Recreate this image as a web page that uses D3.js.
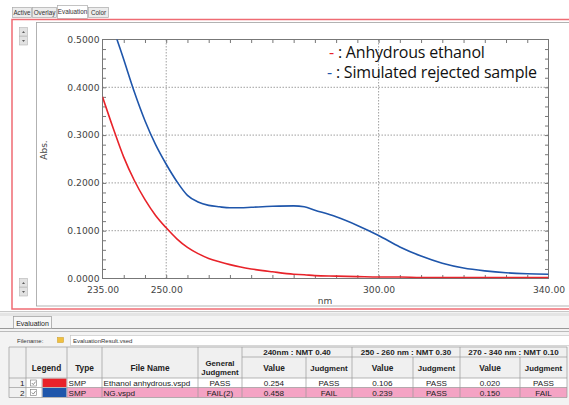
<!DOCTYPE html>
<html><head><meta charset="utf-8">
<script src="https://cdn.jsdelivr.net/npm/d3@7"></script>
<style>
body{margin:0;background:#fff;}
svg{display:block;}
</style>
</head><body>
<svg id="c" width="569" height="405"></svg>
<script>
// ---- data ----
const wavelengths = [235,237.5,240,242.5,245,247.5,250,252.5,255,257.5,260,262.5,265,267.5,270,275,280,282.5,285,290,295,300,305,310,315,320,325,330,335,340];
const ethanol =     [0.380,0.315,0.254,0.205,0.165,0.132,0.106,0.083,0.065,0.052,0.042,0.035,0.029,0.024,0.020,0.014,0.009,0.008,0.006,0.005,0.004,0.003,0.003,0.002,0.002,0.002,0.002,0.002,0.002,0.002];
const rejected =    [0.600,0.525,0.458,0.390,0.330,0.280,0.239,0.203,0.174,0.160,0.153,0.150,0.148,0.148,0.149,0.151,0.152,0.150,0.143,0.129,0.111,0.090,0.066,0.047,0.032,0.022,0.016,0.012,0.010,0.009];
const yTicks = [0,0.1,0.2,0.3,0.4,0.5];
const xTicks = [235,250,300,340];
const legendLabels = ["Anhydrous ethanol","Simulated rejected sample"];
const tabs = ["Active","Overlay","Evaluation","Color"];
const tableRows = [
  {n:"1",type:"SMP",file:"Ethanol anhydrous.vspd",gen:"PASS",v1:"0.254",j1:"PASS",v2:"0.106",j2:"PASS",v3:"0.020",j3:"PASS"},
  {n:"2",type:"SMP",file:"NG.vspd",gen:"FAIL(2)",v1:"0.458",j1:"FAIL",v2:"0.239",j2:"PASS",v3:"0.150",j3:"FAIL"}
];
const groupHeaders = ["240nm : NMT 0.40","250 - 260 nm : NMT 0.30","270 - 340 nm : NMT 0.10"];

const svg = d3.select("#c");
const RED="#e8232a", BLUE="#1f56ab";

// ---- top tabs ----
const tabX=[12,32,57,88,109];
tabs.forEach((t,i)=>{
  const sel = i===2;
  svg.append("rect").attr("x",tabX[i]+0.5).attr("y",sel?5.5:7.5).attr("width",tabX[i+1]-tabX[i]-1).attr("height",sel?13:10)
    .attr("fill",sel?"#fff":"#ececec").attr("stroke","#aaa").attr("stroke-width",0.7);
  svg.append("text").attr("x",(tabX[i]+tabX[i+1])/2).attr("y",sel?14:15).attr("text-anchor","middle")
    .attr("font-family","Liberation Sans, Arial").attr("font-size",6.3).attr("fill","#333").text(t);
});
// outer red panel
svg.append("rect").attr("x",12).attr("y",19.5).attr("width",570).attr("height",289.5).attr("fill","none").attr("stroke","#ef6b73").attr("stroke-width",1.5);
svg.append("rect").attr("x",36.5).attr("y",22.5).attr("width",540).attr("height",283.5).attr("fill","none").attr("stroke","#a0a0a0").attr("stroke-width",0.8);

// left buttons
[[27,36],[278,287]].forEach(p=>{
  p.forEach((y,k)=>{
    svg.append("rect").attr("x",19.5).attr("y",y+0.5).attr("width",8).attr("height",8.5).attr("fill","#e2e2e2").attr("stroke","#b5b5b5").attr("stroke-width",0.6);
    const cx=23.5, cy=y+5;
    svg.append("path").attr("d",k===0?`M${cx-1.5},${cy+0.8}L${cx+1.5},${cy+0.8}L${cx},${cy-0.8}Z`:`M${cx-1.5},${cy-0.8}L${cx+1.5},${cy-0.8}L${cx},${cy+0.8}Z`).attr("fill","#333");
  });
});

// ---- chart ----
const x = d3.scaleLinear().domain([235,340]).range([102.5,548.5]);
const y = d3.scaleLinear().domain([0,0.5]).range([278.5,39.5]);
const font = "DejaVu Sans, Verdana, sans-serif";

svg.append("defs").append("clipPath").attr("id","clip").append("rect")
  .attr("x",x(235)).attr("y",y(0.5)).attr("width",x(340)-x(235)).attr("height",y(0)-y(0.5));

// grid
const g = svg.append("g");
[250,300].forEach(v=>g.append("line").attr("x1",x(v)).attr("x2",x(v)).attr("y1",y(0)).attr("y2",y(0.5)).attr("stroke","#888").attr("stroke-width",0.8).attr("stroke-dasharray","1.5,1.5"));
[0.1,0.2,0.3,0.4].forEach(v=>g.append("line").attr("x1",x(235)).attr("x2",x(340)).attr("y1",y(v)).attr("y2",y(v)).attr("stroke","#888").attr("stroke-width",0.8).attr("stroke-dasharray","1.5,1.5"));

// minor ticks via axes
const xMinor = d3.range(240,340,5);
const yMinor = d3.range(0.02,0.5,0.02);
svg.append("g").attr("transform",`translate(0,${y(0)})`).call(d3.axisTop(x).tickValues(xMinor).tickSize(3.5).tickFormat(""))
  .call(a=>{a.select(".domain").remove();a.selectAll("line").attr("stroke","#777");});
svg.append("g").attr("transform",`translate(0,${y(0.5)})`).call(d3.axisBottom(x).tickValues(xMinor).tickSize(3.5).tickFormat(""))
  .call(a=>{a.select(".domain").remove();a.selectAll("line").attr("stroke","#777");});
svg.append("g").attr("transform",`translate(${x(235)},0)`).call(d3.axisRight(y).tickValues(yMinor).tickSize(3.5).tickFormat(""))
  .call(a=>{a.select(".domain").remove();a.selectAll("line").attr("stroke","#777");});
svg.append("g").attr("transform",`translate(${x(340)},0)`).call(d3.axisLeft(y).tickValues(yMinor).tickSize(3.5).tickFormat(""))
  .call(a=>{a.select(".domain").remove();a.selectAll("line").attr("stroke","#777");});

// frame
svg.append("rect").attr("x",x(235)).attr("y",y(0.5)).attr("width",x(340)-x(235)).attr("height",y(0)-y(0.5)).attr("fill","none").attr("stroke","#777").attr("stroke-width",1);

// labels via axes
svg.append("g").attr("transform",`translate(${x(235)},0)`).call(d3.axisLeft(y).tickValues(yTicks).tickSize(0).tickPadding(3).tickFormat(d3.format(".4f")))
  .call(a=>{a.select(".domain").remove();a.selectAll("text").attr("font-family",font).attr("font-size",9.2).attr("fill","#444").attr("dy","0.3em");});
svg.append("g").attr("transform",`translate(0,${y(0)})`).call(d3.axisBottom(x).tickValues(xTicks).tickSize(0).tickPadding(8).tickFormat(d3.format(".2f")))
  .call(a=>{a.select(".domain").remove();a.selectAll("text").attr("font-family",font).attr("font-size",9.2).attr("fill","#444");});
svg.append("text").attr("transform","translate(47,150) rotate(-90)").attr("text-anchor","middle").attr("font-family",font).attr("font-size",9).attr("fill","#444").text("Abs.");
svg.append("text").attr("x",325).attr("y",304).attr("text-anchor","middle").attr("font-family",font).attr("font-size",9).attr("fill","#444").text("nm");

// curves
const line = d3.line().x((d,i)=>x(wavelengths[i])).y(d=>y(d)).curve(d3.curveMonotoneX);
const cg = svg.append("g").attr("clip-path","url(#clip)");
cg.append("path").attr("d",line(ethanol)).attr("fill","none").attr("stroke",RED).attr("stroke-width",1.6);
cg.append("path").attr("d",line(rejected)).attr("fill","none").attr("stroke",BLUE).attr("stroke-width",1.6);

// legend
const lf = "Open Sans, Noto Sans, sans-serif";
[[RED,legendLabels[0],58,329],[BLUE,legendLabels[1],78,327]].forEach(([c,t,yy,xx])=>{
  const tx = svg.append("text").attr("x",xx).attr("y",yy).attr("font-family",lf).attr("font-size",16).attr("fill","#111").attr("letter-spacing",-0.2);
  tx.append("tspan").attr("fill",c).text("-");
  tx.append("tspan").text(" : "+t);
});

// ---- bottom panel ----
svg.append("rect").attr("x",0).attr("y",311).attr("width",569).attr("height",94).attr("fill","#f3f3f3");
svg.append("line").attr("x1",0).attr("x2",569).attr("y1",311.5).attr("y2",311.5).attr("stroke","#c8c8c8");
svg.append("rect").attr("x",0).attr("y",313).attr("width",569).attr("height",3).attr("fill","#e4e4e4");
svg.append("line").attr("x1",0).attr("x2",569).attr("y1",328.5).attr("y2",328.5).attr("stroke","#999");
svg.append("line").attr("x1",0).attr("x2",569).attr("y1",331.5).attr("y2",331.5).attr("stroke","#bbb");
svg.append("rect").attr("x",13.5).attr("y",316.5).attr("width",38).attr("height",12).attr("fill","#f7f7f7").attr("stroke","#999").attr("stroke-width",0.7);
svg.append("text").attr("x",32.5).attr("y",325.5).attr("text-anchor","middle").attr("font-family","Liberation Sans, Arial").attr("font-size",7).attr("fill","#222").text("Evaluation");
svg.append("text").attr("x",17).attr("y",343).attr("font-family","Liberation Sans, Arial").attr("font-size",6).attr("fill","#333").text("Filename:");
svg.append("rect").attr("x",57.5).attr("y",337.5).attr("width",6).attr("height",5).attr("fill","#f0c040").attr("stroke","#c99a20").attr("stroke-width",0.5);
svg.append("rect").attr("x",70.5).attr("y",335.5).attr("width",500).attr("height",10).attr("fill","#fff").attr("stroke","#c0c0c0").attr("stroke-width",0.6);
svg.append("text").attr("x",73).attr("y",343).attr("font-family","Liberation Sans, Arial").attr("font-size",6).attr("fill","#333").text("EvaluationResult.vsed");

// table
const cols=[9,26,42,67,102,198,242,306,352,413,460,520,567];
const rowsY=[347,357,378,387.5,397.5];
const tf="Liberation Sans, Arial, sans-serif";
const T=svg.append("g");
T.append("rect").attr("x",cols[0]).attr("y",rowsY[0]).attr("width",cols[12]-cols[0]).attr("height",rowsY[2]-rowsY[0]).attr("fill","#f0f0f0");
T.append("rect").attr("x",cols[0]).attr("y",rowsY[2]).attr("width",cols[1]-cols[0]).attr("height",rowsY[4]-rowsY[2]).attr("fill","#f0f0f0");
T.append("rect").attr("x",cols[1]).attr("y",rowsY[2]).attr("width",cols[12]-cols[1]).attr("height",rowsY[3]-rowsY[2]).attr("fill","#fff");
T.append("rect").attr("x",cols[3]).attr("y",rowsY[3]).attr("width",cols[12]-cols[3]).attr("height",rowsY[4]-rowsY[3]).attr("fill","#f4a3c4");
T.append("rect").attr("x",cols[1]).attr("y",rowsY[3]).attr("width",cols[2]-cols[1]).attr("height",rowsY[4]-rowsY[3]).attr("fill","#fff");
T.append("rect").attr("x",cols[2]+0.5).attr("y",rowsY[2]+0.5).attr("width",cols[3]-cols[2]-1).attr("height",rowsY[3]-rowsY[2]-1).attr("fill",RED);
T.append("rect").attr("x",cols[2]+0.5).attr("y",rowsY[3]+0.5).attr("width",cols[3]-cols[2]-1).attr("height",rowsY[4]-rowsY[3]-1).attr("fill",BLUE);
const gl="#9a9a9a";
rowsY.forEach((yy,i)=>{
  T.append("line").attr("x1",i===1?cols[6]:cols[0]).attr("x2",cols[12]).attr("y1",yy).attr("y2",yy).attr("stroke",gl).attr("stroke-width",0.7);
});
cols.forEach((xx,i)=>{
  if(i===2) { T.append("line").attr("x1",xx).attr("x2",xx).attr("y1",rowsY[2]).attr("y2",rowsY[4]).attr("stroke",gl).attr("stroke-width",0.7); return; }
  const top = (i===7||i===9||i===11)?rowsY[1]:rowsY[0];
  T.append("line").attr("x1",xx).attr("x2",xx).attr("y1",top).attr("y2",rowsY[4]).attr("stroke",gl).attr("stroke-width",0.7);
});
const cell=(t,c0,c1,yy,opt={})=>T.append("text").attr("x",opt.left?cols[c0]+1.5:(cols[c0]+cols[c1])/2).attr("y",yy)
  .attr("text-anchor",opt.left?"start":"middle").attr("font-family",tf).attr("font-size",opt.fs||8.1)
  .attr("font-weight",opt.bold?"bold":"normal").attr("fill","#222").text(t);
groupHeaders.forEach((h,i)=>cell(h,6+2*i,8+2*i,355.3,{bold:true,fs:8}));
cell("Legend",1,3,370.8,{bold:true,fs:8.3});
cell("Type",3,4,370.8,{bold:true,fs:8.3});
cell("File Name",4,5,370.8,{bold:true,fs:8.3});
cell("General",5,6,366,{bold:true,fs:7.8});
cell("Judgment",5,6,375.3,{bold:true,fs:7.8});
for(let k=0;k<3;k++){cell("Value",6+2*k,7+2*k,370.8,{bold:true,fs:8.3});cell("Judgment",7+2*k,8+2*k,370.8,{bold:true,fs:7.8});}
tableRows.forEach((r,i)=>{
  const yy=rowsY[2+i]+8.2;
  T.append("text").attr("x",cols[1]-1.5).attr("y",yy).attr("text-anchor","end").attr("font-family",tf).attr("font-size",8.1).attr("fill","#222").text(r.n);
  T.append("rect").attr("x",30.5).attr("y",rowsY[2+i]+2).attr("width",6).attr("height",6).attr("fill","#fff").attr("stroke","#777").attr("stroke-width",0.6);
  T.append("path").attr("d",`M31.8,${rowsY[2+i]+5}l1.5,1.6l2.3,-3`).attr("fill","none").attr("stroke","#444").attr("stroke-width",0.6);
  cell(r.type,3,4,yy,{left:true});
  cell(r.file,4,5,yy,{left:true});
  cell(r.gen,5,6,yy);
  ["v1","j1","v2","j2","v3","j3"].forEach((k,j)=>cell(r[k],6+j,7+j,yy));
});
</script>
</body></html>
